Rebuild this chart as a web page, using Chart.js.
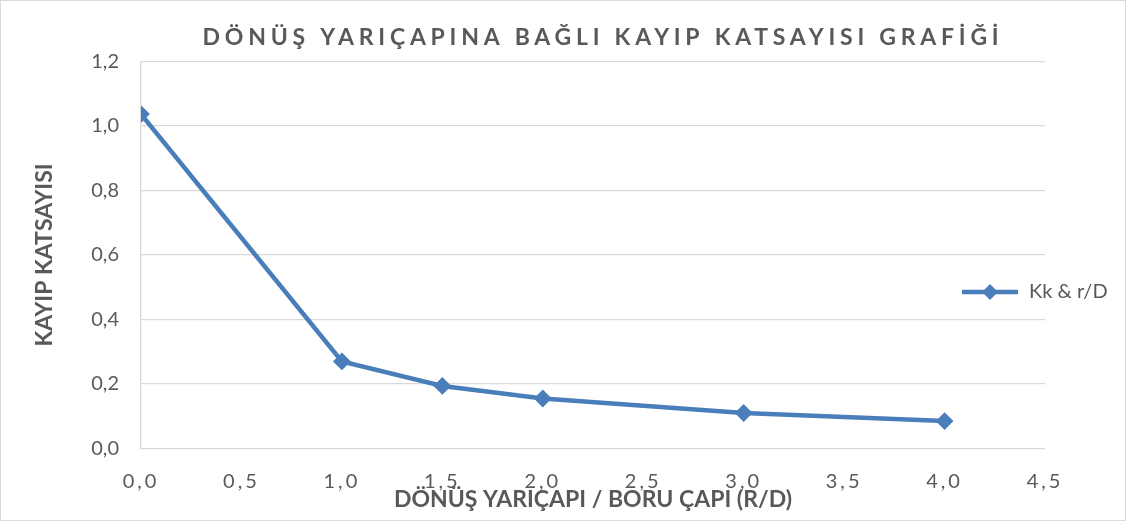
<!DOCTYPE html>
<html>
<head>
<meta charset="utf-8">
<title>Dönüş yarıçapına bağlı kayıp katsayısı</title>
<script src="https://cdn.jsdelivr.net/npm/chart.js@4.4.1/dist/chart.umd.min.js"></script>
<style>
    html, body { margin: 0; padding: 0; background: #fff; }
    #wrap { width: 1126px; height: 521px; box-sizing: border-box; border: 1px solid #d9d9d9; }
    #wrap canvas { display: block; }
</style>
</head>
<body>
<div id="wrap"><canvas id="kayipChart" width="1124" height="519"></canvas></div>
<script>
// *** veriler ***
const rdOranlari = [0.0, 1.0, 1.5, 2.0, 3.0, 4.0];           // r/D
const kayipKatsayilari = [1.037, 0.27, 0.194, 0.155, 0.11, 0.085]; // Kk
const xTikler = [0.0, 0.5, 1.0, 1.5, 2.0, 2.5, 3.0, 3.5, 4.0, 4.5];
const yTikler = [0.0, 0.2, 0.4, 0.6, 0.8, 1.0, 1.2];

const seriAdi = 'Kk & r/D';
const baslik = 'DÖNÜŞ YARIÇAPINA BAĞLI KAYIP KATSAYISI GRAFİĞİ';
const xBaslik = 'DÖNÜŞ YARIÇAPI / BORU ÇAPI (R/D)';
const yBaslik = 'KAYIP KATSAYISI';

const mavi = '#4a7ebb';
const gri = '#595959';
const izgara = '#d9d9d9';
const yazi = 'Lato';

const virgullu = v => Number(v).toFixed(1).replace('.', ',');

// lejant simgesi: çizgi + elmas
const simge = document.createElement('canvas');
simge.width = 58; simge.height = 20;
(function() {
    const c = simge.getContext('2d');
    c.strokeStyle = mavi; c.lineWidth = 4.5;
    c.beginPath(); c.moveTo(1, 10); c.lineTo(57, 10); c.stroke();
    c.fillStyle = mavi;
    c.beginPath(); c.moveTo(29, 2); c.lineTo(37, 10); c.lineTo(29, 18); c.lineTo(21, 10); c.closePath(); c.fill();
})();

const ctx = document.getElementById('kayipChart').getContext('2d');
const chart = new Chart(ctx, {
    type: 'scatter',
    data: {
        datasets: [{
            label: seriAdi,
            data: rdOranlari.map((x, i) => ({ x: x, y: kayipKatsayilari[i] })),
            showLine: true,
            borderColor: mavi,
            backgroundColor: mavi,
            borderWidth: 4.5,
            pointStyle: 'rectRot',
            pointRadius: 7.5,
            pointBorderWidth: 2,
            pointBorderColor: mavi,
            pointBackgroundColor: mavi,
            tension: 0
        }]
    },
    options: {
        responsive: false,
        animation: false,
        layout: { padding: { left: 0, top: 0, bottom: 0, right: 0 } },
        scales: {
            x: {
                type: 'linear',
                min: xTikler[0],
                max: xTikler[xTikler.length - 1],
                grid: { display: false, drawTicks: false },
                border: { display: false },
                ticks: {
                    stepSize: xTikler[1] - xTikler[0],
                    padding: 21,
                    color: gri,
                    font: { family: yazi, size: 20 },
                    callback: v => virgullu(v)
                },
                title: {
                    display: true,
                    text: xBaslik,
                    color: gri,
                    font: { family: yazi, size: 23, weight: 'bold' },
                    padding: { top: 0, bottom: 6.5 }
                },
                afterFit: s => { s.height = 71.5; }
            },
            y: {
                min: yTikler[0],
                max: yTikler[yTikler.length - 1],
                grid: { color: izgara, lineWidth: 1.3, drawTicks: false },
                border: { display: true, color: izgara, width: 1.3 },
                ticks: {
                    stepSize: yTikler[1] - yTikler[0],
                    padding: 22,
                    color: gri,
                    font: { family: yazi, size: 20 },
                    callback: v => virgullu(v)
                },
                title: {
                    display: true,
                    text: yBaslik,
                    color: gri,
                    font: { family: yazi, size: 23, weight: 'bold' },
                    padding: { top: 30, bottom: 0 }
                },
                afterFit: s => { s.width = 140; }
            }
        },
        plugins: {
            title: {
                display: true,
                text: baslik,
                color: gri,
                font: { family: yazi, size: 23, weight: 'bold' },
                padding: { top: 23, bottom: 9.9 }
            },
            legend: {
                position: 'right',
                labels: {
                    color: gri,
                    font: { family: yazi, size: 20 },
                    usePointStyle: true,
                    pointStyleWidth: 58,
                    generateLabels: ch => ch.data.datasets.map((d, i) => ({
                        text: d.label,
                        pointStyle: simge,
                        fontColor: gri,
                        datasetIndex: i,
                        hidden: false,
                        lineWidth: 0
                    }))
                }
            },
            tooltip: { enabled: false }
        }
    }
});

// *** başlık harf aralığı ve konumu ***
const tb = chart.titleBlock;
const tbDraw = tb.draw;
tb.draw = function() {
    const c = this.ctx;
    c.save();
    c.letterSpacing = '4.75px';
    c.translate(602 - (this.left + this.right) / 2, 0);
    tbDraw.apply(this, arguments);
    c.restore();
};

// *** x ekseni etiketlerinde harf aralığı ***
const xs = chart.scales.x;
const xsLabels = xs.drawLabels;
xs.drawLabels = function() {
    const c = this.ctx;
    c.save();
    c.letterSpacing = '3px';
    xsLabels.apply(this, arguments);
    c.restore();
};

// *** lejant: çizim alanı 4,5'e kadar uzansın, lejant üstüne binsin ***
const lg = chart.legend;
chart.options.layout.padding.right = 80 - lg.width;
const lgDraw = lg.draw;
lg.draw = function() {
    const hb = this.legendHitBoxes[0];
    const c = this.ctx;
    c.save();
    if (hb) c.translate(960 - hb.left, 291 - (hb.top + hb.height / 2));
    lgDraw.apply(this, arguments);
    c.restore();
};

chart.update('none');
</script>
</body>
</html>
